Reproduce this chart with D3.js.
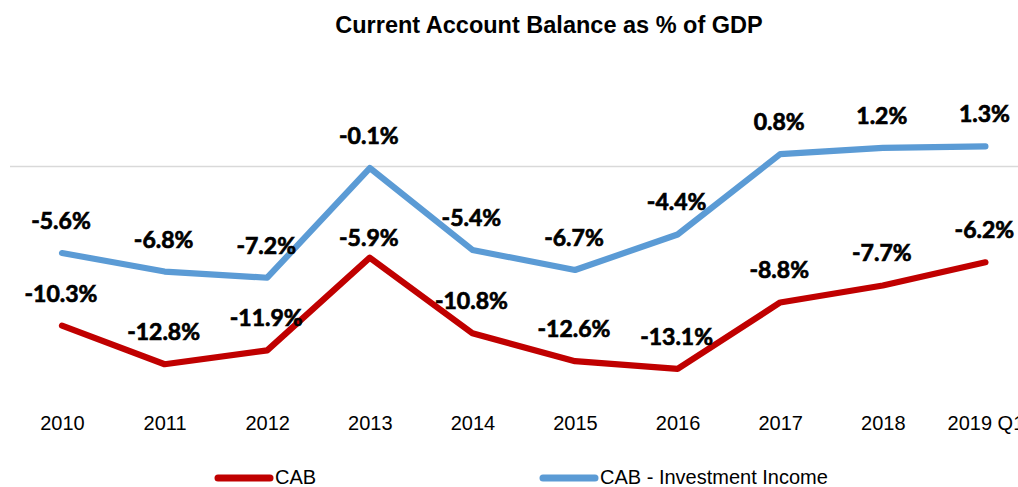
<!DOCTYPE html>
<html>
<head>
<meta charset="utf-8">
<script src="https://cdn.jsdelivr.net/npm/d3@7"></script>
<style>
  html, body { margin: 0; padding: 0; background: #fff; overflow: hidden; }
  svg { display: block; }
</style>
</head>
<body>
<svg id="chart" width="1018" height="487"></svg>
<script>
const categories = ["2010", "2011", "2012", "2013", "2014", "2015", "2016", "2017", "2018", "2019 Q1"];
const cab = [-10.3, -12.8, -11.9, -5.9, -10.8, -12.6, -13.1, -8.8, -7.7, -6.2];
const cabInv = [-5.6, -6.8, -7.2, -0.1, -5.4, -6.7, -4.4, 0.8, 1.2, 1.3];
const seriesNames = ["CAB", "CAB - Investment Income"];
const title = "Current Account Balance as % of GDP";

const W = 1018, H = 487;
const svg = d3.select("#chart");

const x = d3.scalePoint().domain(categories).range([10.7, 1036.7]).padding(0.5);
const y = d3.scaleLinear().domain([-16, 4]).range([413.7, 104.7]);

// title
svg.append("text")
  .attr("x", 549).attr("y", 33)
  .attr("text-anchor", "middle")
  .attr("font-family", "Liberation Sans, Arial, sans-serif")
  .attr("font-weight", "bold")
  .attr("font-size", 23.5)
  .attr("fill", "#000")
  .text(title);

// zero line
svg.append("line")
  .attr("x1", 10).attr("x2", W)
  .attr("y1", y(0)).attr("y2", y(0))
  .attr("stroke", "#d9d9d9").attr("stroke-width", 1.5);

// x axis labels (no axis line)
const xAxis = d3.axisBottom(x).tickSize(0).tickPadding(0);
const gx = svg.append("g").attr("transform", "translate(0,412)").call(xAxis);
gx.select(".domain").remove();
gx.selectAll("text")
  .attr("font-family", "Liberation Sans, Arial, sans-serif")
  .attr("font-size", 20)
  .attr("fill", "#000")
  .attr("dy", "0.9em");

const colors = ["#C00000", "#5B9BD5"];
const series = [cab, cabInv];

const line = d3.line()
  .x((d, i) => x(categories[i]))
  .y(d => y(d));

[1, 0].forEach(s => {
  svg.append("path")
    .datum(series[s])
    .attr("d", line)
    .attr("fill", "none")
    .attr("stroke", colors[s])
    .attr("stroke-width", 6.2)
    .attr("stroke-linejoin", "round")
    .attr("stroke-linecap", "round");
});

// data labels
const fmt = v => v.toFixed(1) + "%";
series.forEach((data, s) => {
  svg.append("g").selectAll("text")
    .data(data)
    .join("text")
    .attr("x", (d, i) => x(categories[i]) - 1)
    .attr("y", (d, i) => y(d) - ((s === 0 && i === 3) ? 12 : 24))
    .attr("text-anchor", "middle")
    .attr("font-family", "Lato, Liberation Sans, Arial, sans-serif")
    .attr("font-weight", "bold")
    .attr("font-size", 23)
    .attr("fill", "#000")
    .attr("stroke", "#000")
    .attr("stroke-width", 0.7)
    .text(d => fmt(d));
});

// legend
const legendX = [215, 540];
seriesNames.forEach((name, s) => {
  const g = svg.append("g");
  g.append("line")
    .attr("x1", legendX[s] + 3).attr("x2", legendX[s] + 55)
    .attr("y1", 478).attr("y2", 478)
    .attr("stroke", colors[s]).attr("stroke-width", 7)
    .attr("stroke-linecap", "round");
  g.append("text")
    .attr("x", legendX[s] + 60).attr("y", 484)
    .attr("font-family", "Liberation Sans, Arial, sans-serif")
    .attr("font-size", 20)
    .attr("fill", "#000")
    .text(name);
});
</script>
</body>
</html>
